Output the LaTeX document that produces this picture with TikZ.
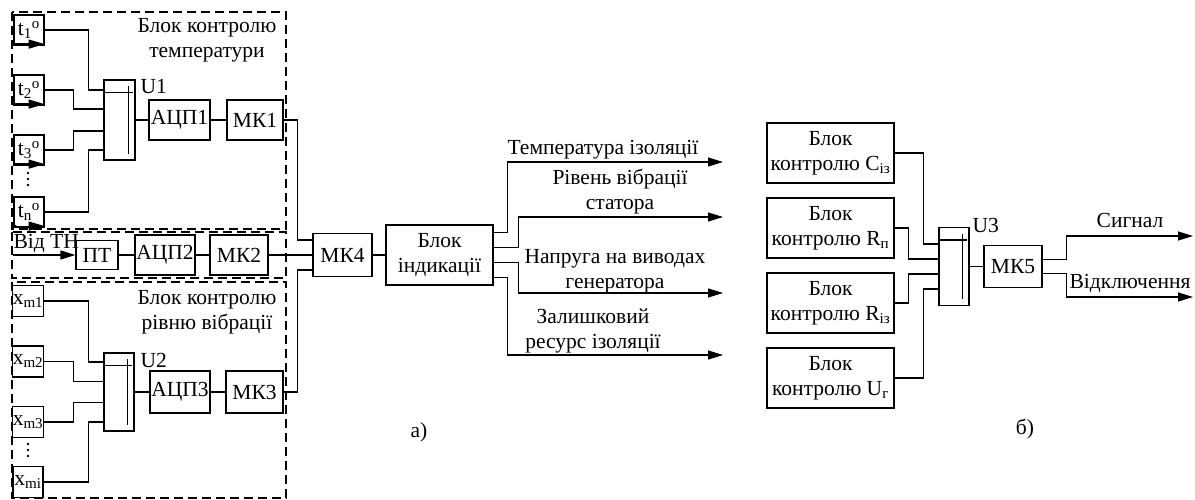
\documentclass[tikz,border=0pt]{standalone}
\usepackage{fontspec}
\setmainfont{Liberation Serif}
\newfontfamily\timesfont{Liberation Serif}
\usetikzlibrary{arrows.meta}

\begin{document}
\begin{tikzpicture}[x=1pt,y=-1pt,line width=1.2pt,
  font=\timesfont\fontsize{21.5}{25}\selectfont,
  block/.style={draw,rectangle,inner sep=1pt,align=center},
  sensor/.style={draw,rectangle,inner sep=0pt,minimum width=30pt,minimum height=30pt},
  mux/.style={draw,rectangle,inner sep=0pt,minimum width=30pt,minimum height=78pt},
  groupbox/.style={line width=1.2pt,dash pattern=on 9pt off 5pt},
  arr/.style={-{Triangle[length=15pt,width=9pt]}}]

% Fix the picture size
\useasboundingbox (0,0) rectangle (1195,500);

% Dashed group boxes
\draw[groupbox] (12,12) rectangle (286,229);
\draw[groupbox] (12,232) rectangle (286,278);
\draw[groupbox] (12,282) rectangle (286,498);

% Titles of the group boxes
\node[align=center] at (207,40) {Блок контролю\\температури};
\node[align=center] at (207,312) {Блок контролю\\рівню вібрації};

% Temperature sensors
\node[sensor] (t1) at (29,30) {t\textsubscript{1}\textsuperscript{o}};
\node[sensor] (t2) at (29,90) {t\textsubscript{2}\textsuperscript{o}};
\node[sensor] (t3) at (29,150) {t\textsubscript{3}\textsuperscript{o}};
\node[sensor] (tn) at (29,212) {t\textsubscript{n}\textsuperscript{o}};

% Arrow along the bottom of each sensor
\foreach \s in {t1,t2,t3,tn} {
  \fill ([xshift=2pt,yshift=1.5pt]\s.south west) circle (1.2pt);
  \draw[-{Triangle[length=16pt,width=9pt]}] ([xshift=2pt,yshift=1.5pt]\s.south west) -- ([yshift=1.5pt]\s.south east);
}

% Dots between t3 and tn
\foreach \y in {173,179,185}
  \fill (28,\y) circle (1.4pt);

% Switch U1, ADC and microcontroller
\node[mux,minimum width=31pt,minimum height=80pt] (U1) at (119.5,120) {};
\node[block,minimum width=61pt,minimum height=40pt] (adc1) at (179.5,120) {АЦП1};
\node[block,minimum width=56pt,minimum height=40pt] (mk1) at (255,120) {МК1};
\node[anchor=base west,inner sep=0pt] at (140,94) {U1};

% Sensors to U1
\draw (t1.east) -| ([xshift=-15pt,yshift=30pt]U1.west) -- ([yshift=30pt]U1.west);
\draw (t2.east) -| ([xshift=-30pt,yshift=11pt]U1.west) -- ([yshift=11pt]U1.west);
\draw (t3.east) -| ([xshift=-30pt,yshift=-11pt]U1.west) -- ([yshift=-11pt]U1.west);
\draw (tn.east) -| ([xshift=-15pt,yshift=-30pt]U1.west) -- ([yshift=-30pt]U1.west);

% U1 to MK1
\draw (U1) -- (adc1) -- (mk1);

% Voltage transformer channel
\coordinate (th) at (13,255);
\node[anchor=base west,inner sep=0pt] at (13,248) {Від ТН};
\node[block,minimum width=42pt,minimum height=29pt] (pt) at (97,255) {ПТ};
\node[block,minimum width=60pt,minimum height=40pt] (adc2) at (165,255) {АЦП2};
\node[block,minimum width=58pt,minimum height=40pt] (mk2) at (239,255) {МК2};
\draw[arr] (th) -- (pt);
\draw (pt) -- (adc2) -- (mk2);

% Vibration sensors
\node[sensor,minimum height=31pt] (xm1) at (28,301) {x\textsubscript{m1}};
\node[sensor,minimum height=31pt] (xm2) at (28,361.5) {x\textsubscript{m2}};
\node[sensor,minimum height=31pt] (xm3) at (28,422) {x\textsubscript{m3}};
\node[sensor,minimum height=31pt] (xmi) at (28,482) {x\textsubscript{mi}};

% Dots between xm3 and xmi
\foreach \y in {444,450,456}
  \fill (28,\y) circle (1.4pt);

% Switch U2, ADC and microcontroller
\node[mux] (U2) at (119,392) {};
\node[block,minimum width=60pt,minimum height=42pt] (adc3) at (180,392) {АЦП3};
\node[block,minimum width=57pt,minimum height=42pt] (mk3) at (254.5,392) {МК3};
\node[anchor=base west,inner sep=0pt] at (140,367) {U2};

% Vibration sensors to U2
\draw (xm1.east) -| ([xshift=-15pt,yshift=30pt]U2.west) -- ([yshift=30pt]U2.west);
\draw (xm2.east) -| ([xshift=-30pt,yshift=10.5pt]U2.west) -- ([yshift=10.5pt]U2.west);
\draw (xm3.east) -| ([xshift=-30pt,yshift=-10.5pt]U2.west) -- ([yshift=-10.5pt]U2.west);
\draw (xmi.east) -| ([xshift=-15pt,yshift=-30pt]U2.west) -- ([yshift=-30pt]U2.west);

% U2 to MK3
\draw (U2) -- (adc3) -- (mk3);

% Main microcontroller and indication block
\node[block,minimum width=59pt,minimum height=43pt] (mk4) at (342.5,255) {МК4};
\node[block,minimum width=107pt,minimum height=60pt] (ind) at (439.5,255) {Блок\\індикації};

% MK1, MK2, MK3 to MK4
\draw (mk1.east) -| ([xshift=-15pt,yshift=15pt]mk4.west) -- ([yshift=15pt]mk4.west);
\draw (mk2) -- (mk4);
\draw (mk3.east) -| ([xshift=-15pt,yshift=-15pt]mk4.west) -- ([yshift=-15pt]mk4.west);
\draw (mk4) -- (ind);

% Outputs of the indication block
\coordinate (o1) at (723,162);
\coordinate (o2) at (723,217);
\coordinate (o3) at (723,293);
\coordinate (o4) at (723,355);
\draw[arr] ([yshift=22.5pt]ind.east) -- ++(14,0) |- (o1);
\draw[arr] ([yshift=7.5pt]ind.east) -- ++(25,0) |- (o2);
\draw[arr] ([yshift=-7.5pt]ind.east) -- ++(25,0) |- (o3);
\draw[arr] ([yshift=-22.5pt]ind.east) -- ++(14,0) |- (o4);

% Labels of the outputs
\node[anchor=base] at (603,155) {Температура ізоляції};
\node[align=center] at (620,192) {Рівень вібрації\\статора};
\node[align=center] at (615,271) {Напруга на виводах\\генератора};
\node[align=center] at (593,331) {Залишковий\\ресурс ізоляції};

% Label a)
\node[anchor=base] at (419,437) {а)};

% Control blocks of part b)
\node[block,minimum width=127pt,minimum height=60pt] (bc) at (830.5,153) {Блок\\контролю C\textsubscript{із}};
\node[block,minimum width=127pt,minimum height=60pt] (brp) at (830.5,228) {Блок\\контролю R\textsubscript{п}};
\node[block,minimum width=127pt,minimum height=60pt] (briz) at (830.5,303) {Блок\\контролю R\textsubscript{із}};
\node[block,minimum width=127pt,minimum height=60pt] (bug) at (830.5,378) {Блок\\контролю U\textsubscript{г}};

% Switch U3 and MK5
\node[mux] (U3) at (954,266.5) {};
\node[anchor=base west,inner sep=0pt] at (972,233) {U3};
\node[block,minimum width=58pt,minimum height=42pt] (mk5) at (1013,266.5) {МК5};

% Control blocks to U3
\draw (bc.east) -| ([xshift=-15pt,yshift=22.5pt]U3.west) -- ([yshift=22.5pt]U3.west);
\draw (brp.east) -| ([xshift=-30pt,yshift=7.5pt]U3.west) -- ([yshift=7.5pt]U3.west);
\draw (briz.east) -| ([xshift=-30pt,yshift=-7.5pt]U3.west) -- ([yshift=-7.5pt]U3.west);
\draw (bug.east) -| ([xshift=-15pt,yshift=-22.5pt]U3.west) -- ([yshift=-22.5pt]U3.west);
\draw (U3) -- (mk5);

% Inner lines of the switches
\foreach \m in {U1,U2,U3} {
  \draw ([xshift=2pt,yshift=-13pt]\m.north west) -- ([xshift=-3pt,yshift=-13pt]\m.north east);
  \draw ([xshift=-7pt,yshift=-7pt]\m.north east) -- ([xshift=-7pt,yshift=7pt]\m.south east);
}

% Outputs of MK5
\coordinate (s1) at (1193,236);
\coordinate (s2) at (1193,297);
\draw[arr] ([yshift=7pt]mk5.east) -- ++(24,0) |- (s1);
\draw[arr] ([yshift=-7pt]mk5.east) -- ++(24,0) |- (s2);
\node[anchor=base] at (1130,227) {Сигнал};
\node[anchor=base] at (1130,288) {Відключення};

% Label b)
\node[anchor=base] at (1025,434) {б)};

\end{tikzpicture}
\end{document}
